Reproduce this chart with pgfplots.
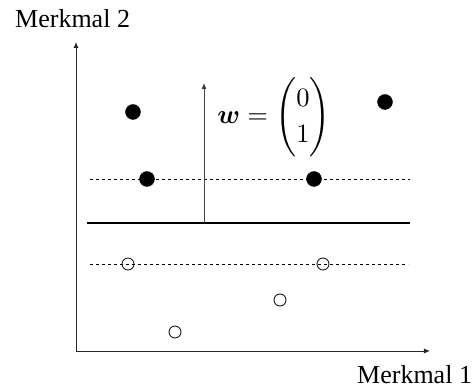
\documentclass[border=0pt]{standalone}
\usepackage{amsmath}
\usepackage{bm}
\usepackage{fontspec}
\setmainfont{Liberation Serif}
\usepackage{pgfplots}
\pgfplotsset{compat=1.18}
\usetikzlibrary{arrows.meta}

\begin{document}
\begin{tikzpicture}
\begin{axis}[
  x=1pt, y=1pt,
  xmin=0, xmax=354, ymin=0, ymax=309,
  axis lines=left,
  xtick=\empty, ytick=\empty,
  clip=false,
  axis line style={line width=0.9pt, black!85, -{Latex[length=6pt,width=5pt]}},
]
% overall frame of the figure
\path (axis cs:-76,-39) rectangle (axis cs:399,351);

% separating line and margin lines
\addplot[black, line width=1.2pt] coordinates {(11,128) (334,128)};
\addplot[black, line width=0.9pt, dash pattern=on 3pt off 3pt] coordinates {(14,172) (334,172)};
\addplot[black, line width=0.9pt, dash pattern=on 3pt off 3pt] coordinates {(14,87) (332,87)};

% normal vector
\addplot[black!75, line width=0.9pt, -{Latex[length=6pt,width=5pt]}] coordinates {(128,128) (128,268)};
\node[scale=2.65] at (axis cs:198,234) {\fontsize{10}{13.8}\selectfont $\bm{w} = \begin{pmatrix}0\\1\end{pmatrix}$};

% class +1
\addplot[only marks, mark=*, mark size=7.5pt, black] coordinates {
  (57,239) (71,172) (238,172) (309,249)
};
% class -1
\addplot[only marks, mark=o, mark size=6pt, black, line width=0.8pt,
  mark options={fill=white}] coordinates {
  (52,87) (247,87) (204,51) (99,19)
};

% feature labels
\node[anchor=base west, inner sep=0pt] at (axis cs:-61,323) {\fontsize{26}{31}\selectfont Merkmal 2};
\node[anchor=base west, inner sep=0pt] at (axis cs:281,-33) {\fontsize{26}{31}\selectfont Merkmal 1};
\end{axis}
\end{tikzpicture}
\end{document}
